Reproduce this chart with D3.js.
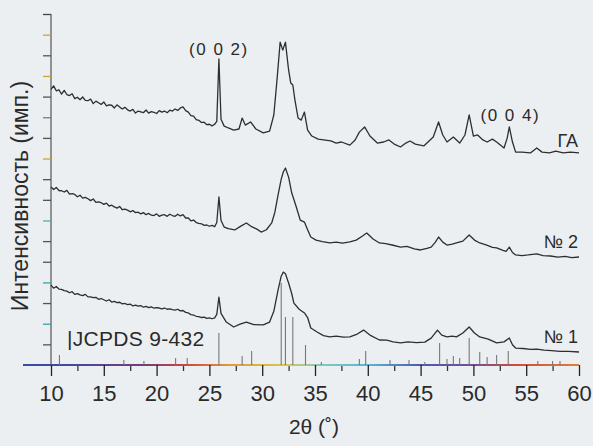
<!DOCTYPE html>
<html><head><meta charset="utf-8">
<script src="https://cdn.jsdelivr.net/npm/d3@7"></script>
<style>
html,body{margin:0;padding:0;background:#eceff1;}
svg{display:block;}
text{font-family:"Liberation Sans",Arial,Helvetica,sans-serif;fill:#2a2a2a;}
</style></head><body>
<script>
// ---- data (2θ in degrees, intensity in arbitrary stacked units) ----
const thetaGA = [10.0,10.25,10.5,10.75,11.0,11.25,11.5,11.75,12.0,12.25,12.5,12.75,13.0,13.25,13.5,13.75,14.0,14.25,14.5,14.75,15.0,15.25,15.5,15.75,16.0,16.25,16.5,16.75,17.0,17.25,17.5,17.75,18.0,18.25,18.5,18.75,19.0,19.25,19.5,19.75,20.0,20.25,20.5,20.75,21.0,21.25,21.5,21.75,22.0,22.25,22.5,22.75,23.0,23.25,23.5,23.75,24.0,24.25,24.5,24.75,25.0,25.25,25.5,25.7,25.9,26.1,26.4,26.8,27.3,27.8,28.1,28.4,28.9,29.4,30.1,30.7,31.1,31.4,31.7,31.95,32.2,32.5,32.7,32.9,33.1,33.4,33.7,34.0,34.3,34.7,35.3,35.8,36.5,37.0,37.5,38.3,38.8,39.2,39.7,40.2,40.9,41.5,42.0,42.5,43.1,43.6,44.0,44.5,45.3,45.7,46.2,46.7,47.1,47.5,48.1,48.7,49.2,49.6,50.0,50.4,50.9,51.3,51.8,52.2,52.9,53.2,53.4,53.7,54.0,54.6,55.4,56.0,56.5,57.2,57.8,58.5,59.2,60.0];
const intensGA = [13.35,13.52,13.28,13.33,13.12,13.3,13.1,13.05,13.14,12.9,12.97,12.85,12.98,12.82,12.8,12.88,12.66,12.78,12.7,12.62,12.74,12.55,12.6,12.58,12.45,12.6,12.5,12.4,12.48,12.36,12.3,12.38,12.2,12.3,12.26,12.22,12.35,12.2,12.27,12.24,12.18,12.32,12.25,12.3,12.22,12.34,12.3,12.4,12.33,12.45,12.5,12.32,12.25,12.08,12.05,11.88,11.85,11.74,11.76,11.64,11.66,11.58,11.66,11.8,14.82,11.9,11.57,11.48,11.38,11.43,11.96,11.62,11.77,11.43,11.24,11.33,12.11,13.8,15.64,15.25,15.64,14.29,13.66,13.56,12.83,11.96,11.86,12.25,11.38,11.09,10.94,10.9,10.85,10.75,10.8,10.65,10.9,11.28,11.53,11.09,10.75,10.8,10.9,10.7,10.56,10.75,10.85,10.7,10.61,10.8,11.04,11.77,11.14,10.8,11.04,10.75,11.14,12.11,11.09,11.14,10.9,10.8,10.94,10.8,10.51,10.99,11.53,10.8,10.31,10.31,10.27,10.51,10.31,10.27,10.36,10.27,10.31,10.27];

const thetaN2 = [10.0,10.25,10.5,10.75,11.0,11.25,11.5,11.75,12.0,12.25,12.5,12.75,13.0,13.25,13.5,13.75,14.0,14.25,14.5,14.75,15.0,15.25,15.5,15.75,16.0,16.25,16.5,16.75,17.0,17.25,17.5,17.75,18.0,18.25,18.5,18.75,19.0,19.25,19.5,19.75,20.0,20.25,20.5,20.75,21.0,21.25,21.5,21.75,22.0,22.25,22.5,22.75,23.0,23.25,23.5,23.75,24.0,24.25,24.5,24.75,25.0,25.25,25.5,25.7,25.9,26.1,26.4,26.8,27.4,27.9,28.5,29.0,29.5,29.9,30.4,30.9,31.2,31.5,31.8,32.0,32.2,32.5,32.8,33.2,33.6,34.0,34.3,34.6,35.1,35.7,36.4,37.0,37.6,38.3,38.9,39.5,39.9,40.5,41.1,41.7,42.4,43.1,43.7,44.4,45.0,45.6,46.0,46.4,46.7,47.1,47.5,48.0,48.4,49.0,49.6,50.1,50.6,51.2,51.8,52.2,52.8,53.1,53.4,53.7,54.0,54.6,55.2,56.0,56.6,57.3,58.0,58.7,59.3,60.0];
const intensN2 = [8.62,8.5,8.6,8.45,8.44,8.38,8.46,8.28,8.3,8.26,8.15,8.22,8.08,8.12,8.05,7.96,8.04,7.88,7.9,7.86,7.78,7.84,7.7,7.74,7.66,7.6,7.68,7.52,7.55,7.5,7.42,7.48,7.38,7.4,7.32,7.38,7.28,7.34,7.26,7.24,7.32,7.2,7.26,7.28,7.2,7.3,7.24,7.2,7.3,7.22,7.28,7.12,7.12,6.98,7.02,6.9,6.86,6.84,6.76,6.78,6.72,6.76,6.7,6.9,8.14,7.0,6.68,6.6,6.54,6.7,6.88,6.7,6.58,6.44,6.55,6.88,7.4,8.23,9.0,9.35,9.54,9.1,8.33,7.7,7.02,6.92,6.55,6.2,6.05,5.98,5.91,5.95,5.9,5.96,6.05,6.25,6.39,6.1,5.91,5.88,5.8,5.71,5.75,5.62,5.57,5.65,5.71,5.95,6.2,5.95,5.81,5.85,5.91,6.0,6.3,6.05,5.91,5.82,5.7,5.67,5.55,5.5,5.71,5.45,5.33,5.3,5.33,5.38,5.3,5.28,5.22,5.26,5.2,5.23];

const thetaN1 = [10.0,10.25,10.5,10.75,11.0,11.25,11.5,11.75,12.0,12.25,12.5,12.75,13.0,13.25,13.5,13.75,14.0,14.25,14.5,14.75,15.0,15.25,15.5,15.75,16.0,16.25,16.5,16.75,17.0,17.25,17.5,17.75,18.0,18.25,18.5,18.75,19.0,19.25,19.5,19.75,20.0,20.25,20.5,20.75,21.0,21.25,21.5,21.75,22.0,22.25,22.5,22.75,23.0,23.25,23.5,23.75,24.0,24.25,24.5,24.75,25.0,25.25,25.5,25.7,25.9,26.1,26.6,27.3,27.9,28.5,29.2,30.1,30.7,31.1,31.5,31.8,32.0,32.2,32.5,32.8,33.0,33.5,34.0,34.3,34.6,35.2,35.8,36.4,37.0,37.7,38.3,39.0,39.6,40.2,41.1,41.8,42.4,43.1,43.8,44.6,45.4,46.0,46.6,47.0,47.5,48.0,48.4,49.0,49.6,50.1,50.6,51.4,52.2,52.9,53.4,53.7,54.0,54.7,55.4,56.0,56.7,57.4,58.2,59.0,60.0];
const intensN1 = [3.87,3.72,3.8,3.68,3.66,3.6,3.58,3.5,3.55,3.42,3.46,3.4,3.36,3.42,3.3,3.3,3.26,3.28,3.18,3.22,3.16,3.1,3.16,3.05,3.08,3.02,3.04,2.96,2.98,2.92,2.95,2.86,2.9,2.85,2.88,2.8,2.84,2.78,2.82,2.75,2.78,2.76,2.72,2.76,2.7,2.72,2.68,2.66,2.7,2.62,2.64,2.55,2.52,2.44,2.42,2.36,2.34,2.3,2.32,2.26,2.28,2.24,2.28,2.45,3.29,2.5,2.08,1.84,1.98,2.08,1.96,1.94,2.08,2.6,3.63,4.3,4.5,4.42,3.97,3.45,3.0,2.7,2.52,2.3,1.79,1.6,1.42,1.36,1.4,1.35,1.36,1.5,1.69,1.45,1.21,1.2,1.12,1.07,1.12,1.08,1.11,1.3,1.69,1.45,1.36,1.4,1.36,1.55,1.84,1.55,1.36,1.25,1.07,1.12,1.31,0.98,0.82,0.8,0.76,0.77,0.72,0.7,0.66,0.66,0.63];

const stickTheta  = [10.8,16.9,18.8,21.8,22.9,25.9,28.1,29.0,31.8,32.2,32.9,34.1,35.6,39.2,39.8,42.1,43.9,45.4,46.8,47.5,48.1,48.7,49.6,50.6,51.3,52.2,53.3,56.1,57.5,58.2];
const stickIntens = [0.48,0.24,0.19,0.34,0.34,1.55,0.44,0.68,3.97,2.32,2.32,0.97,0.15,0.29,0.68,0.24,0.24,0.15,1.07,0.29,0.44,0.34,1.31,0.63,0.39,0.48,0.68,0.19,0.19,0.19];

const xTicks = [10,15,20,25,30,35,40,45,50,55,60];
const seriesNames = ["ГА","№ 2","№ 1"];
const peakLabels = ["(0 0 2)","(0 0 4)"];
const peakTheta = [25.9,53.5];
const refLabel = "|JCPDS 9-432";
const xTitle = "2θ (˚)";
const yTitle = "Интенсивность (имп.)";

// ---- drawing ----
const W = 593, H = 446;
const svg = d3.select("body").append("svg").attr("width", W).attr("height", H);
svg.append("rect").attr("width", W).attr("height", H).attr("fill", "#eceff1");

const x = d3.scaleLinear().domain([10, 60]).range([51, 579]);
const y = d3.scaleLinear().domain([0, 17]).range([365, 14]);

const defs = svg.append("defs");
const grad = defs.append("linearGradient").attr("id", "axgrad")
  .attr("gradientUnits", "userSpaceOnUse").attr("x1", x(10)).attr("x2", x(60)).attr("y1", 0).attr("y2", 0);
[[0,"#3a4aa8"],[0.18,"#7a3a7a"],[0.26,"#d04a3a"],[0.34,"#e09a3a"],[0.44,"#d8c84a"],[0.52,"#7ac8c8"],[0.6,"#5ab8d0"],[0.7,"#4a5ab0"],[0.8,"#7a4a9a"],[0.88,"#d04a3a"],[1,"#e0803a"]]
  .forEach(s => grad.append("stop").attr("offset", s[0]).attr("stop-color", s[1]));

// y axis
const yAxis = d3.axisLeft(y).tickValues(d3.range(1, 18)).tickSize(8).tickFormat("");
const gy = svg.append("g").attr("transform", `translate(${x(10)},0)`).call(yAxis);
gy.select(".domain").attr("stroke", "#555").attr("stroke-width", 1.2).attr("d", `M0,${y(0)}V${y(17)}`);
const yTickColors = ["#555","#3aa0b0","#555","#3aa0b0","#555","#555","#4ab0b8","#555","#555","#c8a830","#555","#4a8ab8","#555","#c8a830","#555","#c8a830","#444"];
gy.selectAll(".tick line").attr("stroke", (d,i)=>yTickColors[i]).attr("stroke-width", 1.3);

// x axis
const xMinor = d3.range(12.5, 60, 5);
const gxMinor = svg.append("g").attr("transform", `translate(0,${y(0)})`)
  .call(d3.axisBottom(x).tickValues(xMinor).tickSize(6).tickFormat(""));
gxMinor.select(".domain").remove();
gxMinor.selectAll(".tick line").attr("stroke", "#333").attr("stroke-width", 1.3);
const gx = svg.append("g").attr("transform", `translate(0,${y(0)})`)
  .call(d3.axisBottom(x).tickValues(xTicks).tickSize(11).tickPadding(9).tickFormat(d3.format("d")));
gx.select(".domain").attr("stroke", "url(#axgrad)").attr("stroke-width", 2).attr("d", `M${x(10)-28},0H${x(60)}`);
gx.selectAll(".tick line").attr("stroke", "#222").attr("stroke-width", 1.3);
gx.selectAll(".tick text").attr("font-size", 22).attr("fill", "#2a2a2a")
  .attr("font-family", "'Liberation Sans',Arial,sans-serif");

// reference sticks
svg.append("g").selectAll("line").data(stickTheta).join("line")
  .attr("x1", d => x(d)).attr("x2", d => x(d))
  .attr("y1", y(0)).attr("y2", (d,i) => y(stickIntens[i]))
  .attr("stroke", "#777").attr("stroke-width", 1.1);

// curves
const line = d3.line().x(d => x(d[0])).y(d => y(d[1]));
const curves = [[thetaGA, intensGA],[thetaN2, intensN2],[thetaN1, intensN1]];
curves.forEach(c => {
  const pts = c[0].map((t,i) => [t, c[1][i]]);
  svg.append("path").datum(pts).attr("d", line)
    .attr("fill", "none").attr("stroke", "#2e2e2e").attr("stroke-width", 1.3).attr("stroke-linejoin", "round");
});

// series labels
const seriesLabelY = [147, 248, 343];
seriesNames.forEach((n,i) => {
  svg.append("text").attr("x", 578).attr("y", seriesLabelY[i]).attr("text-anchor", "end")
    .attr("font-size", 18).text(n);
});

// peak labels
const peakLabelY = [55, 121];
peakLabels.forEach((p,i) => {
  svg.append("text").attr("x", x(peakTheta[i])).attr("y", peakLabelY[i]).attr("text-anchor", "middle")
    .attr("font-size", 17).attr("letter-spacing", 1.5).text(p);
});

// reference label
svg.append("text").attr("x", 67).attr("y", 346).attr("font-size", 21).attr("letter-spacing", 0.3).text(refLabel);

// axis titles
svg.append("text").attr("x", 314).attr("y", 434).attr("text-anchor", "middle").attr("font-size", 21).text(xTitle);
svg.append("text").attr("transform", "translate(28,196) rotate(-90)").attr("text-anchor", "middle")
  .attr("font-size", 23).text(yTitle);
</script>
</body></html>
